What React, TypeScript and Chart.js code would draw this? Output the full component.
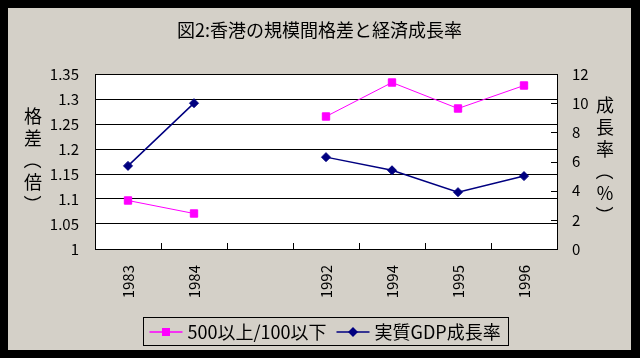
import React, { useEffect, useRef } from "react";
import { Chart, registerables } from "chart.js";

Chart.register(...registerables);

const TITLE = "図2:香港の規模間格差と経済成長率";
const LEFT_TITLE = ["格", "差", "（", "倍", "）"];
const RIGHT_TITLE = ["成", "長", "率", "（", "％", "）"];
const CATEGORIES = ["1983", "1984", "", "1992", "1994", "1995", "1996"];
const SERIES_NAMES = ["500以上/100以下", "実質GDP成長率"];
const RATIO = [1.097, 1.071, null, 1.265, 1.333, 1.281, 1.327];
const GDP = [5.7, 10.0, null, 6.3, 5.4, 3.9, 5.0];
const LEFT_MIN = 1;
const LEFT_MAX = 1.35;
const LEFT_STEP = 0.05;
const RIGHT_MIN = 0;
const RIGHT_MAX = 12;
const RIGHT_STEP = 2;

const FONT = '"Noto Sans CJK JP", "Noto Sans", sans-serif';
const PINK = "#ff00ff";
const NAVY = "#000080";
const BG = "#d4d0c8";

function drawVertical(ctx: CanvasRenderingContext2D, chars: string[], x: number, cy: number, pitch: number) {
  const startY = cy - ((chars.length - 1) * pitch) / 2;
  chars.forEach((ch, i) => {
    const y = startY + i * pitch;
    ctx.save();
    ctx.translate(x, y);
    if (ch === "（" || ch === "）") ctx.rotate(Math.PI / 2);
    ctx.fillText(ch, 0, 0);
    ctx.restore();
  });
}

function drawMarker(ctx: CanvasRenderingContext2D, kind: string, x: number, y: number, color: string) {
  ctx.fillStyle = color;
  if (kind === "rect") {
    ctx.fillRect(x - 4, y - 4, 8, 8);
  } else {
    ctx.beginPath();
    ctx.moveTo(x - 5, y);
    ctx.lineTo(x, y - 5);
    ctx.lineTo(x + 5, y);
    ctx.lineTo(x, y + 5);
    ctx.closePath();
    ctx.fill();
  }
}

const decor = {
  id: "decor",
  afterDraw(chart: any) {
    const ctx: CanvasRenderingContext2D = chart.ctx;
    const { right, bottom } = chart.chartArea;
    ctx.save();
    ctx.fillStyle = "#000";
    ctx.textAlign = "center";
    ctx.textBaseline = "middle";
    ctx.font = `18px ${FONT}`;
    ctx.fillText(TITLE, chart.width / 2, 22);

    drawVertical(ctx, LEFT_TITLE, 25, 152, 22);
    drawVertical(ctx, RIGHT_TITLE, 597, 152, 22);

    // inward tick marks on x axis
    const xs = chart.scales.x;
    ctx.strokeStyle = "#000";
    ctx.lineWidth = 1;
    for (let i = 1; i < CATEGORIES.length; i++) {
      const px = Math.round((xs.getPixelForTick(i - 1) + xs.getPixelForTick(i)) / 2) + 0.5;
      ctx.beginPath();
      ctx.moveTo(px, bottom);
      ctx.lineTo(px, bottom - 6);
      ctx.stroke();
    }
    // inward tick marks on right axis
    const y2 = chart.scales.y2;
    y2.ticks.forEach((t: any) => {
      const py = Math.round(y2.getPixelForValue(t.value)) + 0.5;
      ctx.beginPath();
      ctx.moveTo(right - 6, py);
      ctx.lineTo(right, py);
      ctx.stroke();
    });

    // legend
    ctx.font = `18px ${FONT}`;
    const w1 = ctx.measureText(SERIES_NAMES[0]).width;
    const w2 = ctx.measureText(SERIES_NAMES[1]).width;
    const lineLen = 33, gap = 5, itemGap = 10, padL = 6, padR = 8;
    const total = padL + lineLen + gap + w1 + itemGap + lineLen + gap + w2 + padR;
    const boxL = Math.round(318 - total / 2) + 0.5;
    const boxT = 309.5, boxH = 28;
    ctx.strokeStyle = "#000";
    ctx.strokeRect(boxL, boxT, Math.round(total), boxH);
    const ly = 324;
    let x = boxL + padL;
    const items = [
      { color: PINK, kind: "rect", name: SERIES_NAMES[0], w: w1 },
      { color: NAVY, kind: "diamond", name: SERIES_NAMES[1], w: w2 },
    ];
    items.forEach((it) => {
      ctx.strokeStyle = it.color;
      ctx.lineWidth = 1.5;
      ctx.beginPath();
      ctx.moveTo(x, ly);
      ctx.lineTo(x + lineLen, ly);
      ctx.stroke();
      drawMarker(ctx, it.kind, x + lineLen / 2, ly, it.color);
      x += lineLen + gap;
      ctx.fillStyle = "#000";
      ctx.textAlign = "left";
      ctx.textBaseline = "middle";
      ctx.fillText(it.name, x, ly);
      x += it.w + itemGap;
    });
    ctx.restore();
  },
};

export default function App() {
  const ref = useRef<HTMLCanvasElement>(null);
  useEffect(() => {
    if (!ref.current) return;
    const tickFont = { family: FONT, size: 15 };
    const chart = new Chart(ref.current, {
      type: "line",
      data: {
        labels: CATEGORIES,
        datasets: [
          {
            label: SERIES_NAMES[0],
            data: RATIO,
            yAxisID: "y",
            borderColor: PINK,
            backgroundColor: PINK,
            borderWidth: 1,
            pointStyle: "rect",
            pointRadius: 5.2,
            pointBorderWidth: 1,
            pointBorderColor: PINK,
            spanGaps: false,
            tension: 0,
          },
          {
            label: SERIES_NAMES[1],
            data: GDP,
            yAxisID: "y2",
            borderColor: NAVY,
            backgroundColor: NAVY,
            borderWidth: 1.5,
            pointStyle: "rectRot",
            pointRadius: 4.5,
            pointBorderWidth: 1,
            pointBorderColor: NAVY,
            spanGaps: false,
            tension: 0,
          },
        ],
      },
      options: {
        animation: false,
        responsive: false,
        devicePixelRatio: 1,
        layout: { padding: { top: 66, left: 0, right: 0, bottom: 0 } },
        plugins: { legend: { display: false }, title: { display: false }, tooltip: { enabled: false } },
        scales: {
          x: {
            type: "category",
            offset: true,
            grid: { display: false, drawTicks: false, offset: true },
            border: { display: true, color: "#000", width: 1 },
            ticks: { minRotation: 90, maxRotation: 90, autoSkip: false, padding: 16, font: tickFont, color: "#000" },
            afterFit: (s: any) => { s.height = 101; },
          },
          y: {
            position: "left",
            min: LEFT_MIN,
            max: LEFT_MAX,
            grid: { color: "#000", drawTicks: false, lineWidth: 1 },
            border: { display: true, color: "#000", width: 1 },
            ticks: {
              stepSize: LEFT_STEP,
              padding: 16,
              font: tickFont,
              color: "#000",
              callback: (v: any) => String(+Number(v).toFixed(2)),
            },
            afterFit: (s: any) => { s.width = 87; },
          },
          y2: {
            position: "right",
            min: RIGHT_MIN,
            max: RIGHT_MAX,
            grid: { display: false, drawTicks: false, drawOnChartArea: false },
            border: { display: true, color: "#000", width: 1 },
            ticks: { stepSize: RIGHT_STEP, padding: 15, font: tickFont, color: "#000" },
            afterFit: (s: any) => { s.width = 74; },
          },
        },
      },
      plugins: [
        {
          id: "plotbg",
          beforeDraw(c: any) {
            const { left, top, width, height } = c.chartArea;
            c.ctx.save();
            c.ctx.fillStyle = "#fff";
            c.ctx.fillRect(left, top, width, height);
            c.ctx.restore();
          },
        },
        decor,
      ],
    } as any);
    return () => chart.destroy();
  }, []);
  return (
    <div style={{ position: "fixed", left: 0, top: 0, width: 640, height: 358, background: "#000" }}>
      <div style={{ position: "absolute", left: 8, top: 8, width: 623, height: 342, background: BG }}>
        <canvas ref={ref} width={623} height={342} style={{ display: "block", width: 623, height: 342 }} />
      </div>
    </div>
  );
}
